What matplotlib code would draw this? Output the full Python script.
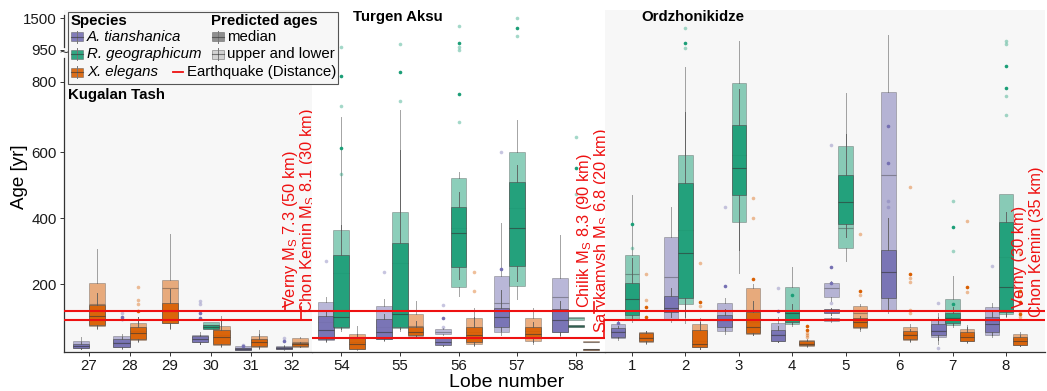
import numpy as np
import matplotlib
matplotlib.use("Agg")
import matplotlib.pyplot as plt
from matplotlib.colors import to_rgba
from matplotlib.patches import Rectangle
from matplotlib.transforms import blended_transform_factory

plt.rcParams.update({
    "font.family": ["Liberation Sans", "DejaVu Sans"],
    "font.size": 10.8,
    "mathtext.default": "regular",
})

W, H = 1047, 391          # figure size in pixels
TOP, BOTTOM = 10, 352     # panel top / bottom in pixels

SP_KEYS = ["At", "Rg", "Xe"]
SP_NAMES = ["A. tianshanica", "R. geographicum", "X. elegans"]
SP_COLORS = {"At": "#7570b3", "Rg": "#1b9e77", "Xe": "#d95f02"}

# ---- lobes per site ----
KUGALAN_LOBES = ["27", "28", "29", "30", "31", "32"]
TURGEN_LOBES = ["54", "55", "56", "57", "58"]
ORDZ_LOBES = ["1", "2", "3", "4", "5", "6", "7", "8"]

# box statistics: (lobe, species, kind, whislo, q1, med, q3, whishi, outliers)
# kind "med" = ages from median curve, "bnd" = ages from upper/lower curves
KUGALAN_AGES = [
    ("27", "At", "bnd", 3, 6, 14, 29, 40, []),
    ("27", "At", "med", 5, 8, 14, 18, 25, []),
    ("27", "Xe", "bnd", 65, 74, 140, 203, 307, []),
    ("27", "Xe", "med", 68, 76, 104, 137, 173, []),
    ("28", "At", "bnd", 5, 11, 25, 43, 50, [114]),
    ("28", "At", "med", 6, 11, 22, 35, 40, [100, 94]),
    ("28", "Xe", "bnd", 25, 31, 60, 84, 102, [191, 152, 139]),
    ("28", "Xe", "med", 27, 33, 52, 70, 100, [119]),
    ("29", "Xe", "bnd", 65, 84, 190, 213, 351, []),
    ("29", "Xe", "med", 68, 84, 120, 144, 186, []),
    ("30", "At", "bnd", 20, 24, 40, 48, 55, [149, 139]),
    ("30", "At", "med", 20, 24, 35, 42, 46, [112, 97]),
    ("30", "Rg", "bnd", 68, 68, 78, 87, 87, []),
    ("30", "Rg", "med", 64, 64, 72, 78, 78, []),
    ("30", "Xe", "bnd", 10, 16, 45, 74, 104, []),
    ("30", "Xe", "med", 12, 18, 39, 62, 90, []),
    ("31", "At", "bnd", 0, 1, 6, 12, 14, [16]),
    ("31", "At", "med", 1, 2, 4, 8, 10, [14]),
    ("31", "Xe", "bnd", 5, 11, 30, 43, 61, []),
    ("31", "Xe", "med", 8, 12, 25, 35, 50, []),
    ("32", "At", "bnd", 2, 3, 8, 14, 16, [36]),
    ("32", "At", "med", 3, 4, 7, 10, 12, [29]),
    ("32", "Xe", "bnd", 9, 11, 25, 36, 40, []),
    ("32", "Xe", "med", 10, 12, 18, 22, 25, []),
]

TURGEN_AGES = [
    ("54", "At", "bnd", 25, 31, 87, 147, 162, [271]),
    ("54", "At", "med", 28, 33, 62, 104, 120, []),
    ("54", "Rg", "bnd", 60, 67, 235, 364, 700, [1007, 731, 534]),
    ("54", "Rg", "med", 65, 71, 100, 289, 380, [827, 613]),
    ("54", "Xe", "bnd", 2, 4, 25, 51, 74, []),
    ("54", "Xe", "med", 3, 5, 19, 36, 50, []),
    ("55", "At", "bnd", 28, 33, 72, 134, 157, [238]),
    ("55", "At", "med", 30, 35, 56, 94, 110, []),
    ("55", "Rg", "bnd", 60, 67, 265, 419, 719, [1047, 745]),
    ("55", "Rg", "med", 65, 70, 110, 326, 607, [847]),
    ("55", "Xe", "bnd", 38, 43, 75, 110, 149, []),
    ("55", "Xe", "med", 40, 45, 56, 72, 90, []),
    ("56", "At", "bnd", 45, 49, 55, 64, 68, [137, 72]),
    ("56", "At", "med", 14, 16, 25, 36, 40, [97]),
    ("56", "Rg", "bnd", 165, 193, 371, 521, 540, [1368, 996, 948, 685]),
    ("56", "Rg", "med", 216, 253, 355, 435, 480, [1065, 765]),
    ("56", "Xe", "bnd", 12, 19, 56, 97, 129, [238, 180]),
    ("56", "Xe", "med", 15, 26, 45, 70, 100, []),
    ("57", "At", "bnd", 45, 55, 144, 225, 387, [600]),
    ("57", "At", "med", 60, 70, 100, 127, 183, [245]),
    ("57", "Rg", "bnd", 155, 195, 430, 600, 690, [1500, 1191]),
    ("57", "Rg", "med", 210, 256, 370, 511, 560, [1337]),
    ("57", "Xe", "bnd", 20, 29, 60, 97, 127, []),
    ("57", "Xe", "med", 25, 36, 51, 70, 85, []),
    ("58", "At", "bnd", 43, 56, 162, 218, 349, []),
    ("58", "At", "med", 45, 56, 92, 124, 150, []),
    ("58", "Rg", "bnd", 92, 92, 97, 102, 102, [642, 474]),
    ("58", "Rg", "med", 70, 70, 74, 77, 77, [551]),
    ("58", "Xe", "bnd", 25, 25, 26, 27, 27, []),
    ("58", "Xe", "med", 2, 2, 3, 4, 4, []),
]

ORDZ_AGES = [
    ("1", "At", "bnd", 30, 36, 58, 80, 88, []),
    ("1", "At", "med", 36, 41, 55, 67, 75, [84]),
    ("1", "Rg", "bnd", 85, 94, 231, 289, 471, [309]),
    ("1", "Rg", "med", 95, 107, 155, 203, 280, [383]),
    ("1", "Xe", "bnd", 20, 26, 40, 56, 60, [230, 152]),
    ("1", "Xe", "med", 22, 27, 38, 52, 58, [132, 100]),
    ("2", "At", "bnd", 85, 94, 221, 342, 433, []),
    ("2", "At", "med", 100, 115, 127, 165, 190, []),
    ("2", "Rg", "bnd", 82, 140, 365, 592, 870, [1328, 990]),
    ("2", "Rg", "med", 100, 159, 296, 508, 715, [1065]),
    ("2", "Xe", "bnd", 5, 9, 28, 79, 99, [264, 134]),
    ("2", "Xe", "med", 5, 9, 19, 62, 85, [145]),
    ("3", "At", "bnd", 50, 58, 92, 144, 160, [435]),
    ("3", "At", "med", 62, 72, 92, 107, 125, [195]),
    ("3", "Rg", "bnd", 233, 390, 592, 795, 1105, []),
    ("3", "Rg", "med", 304, 471, 553, 677, 780, []),
    ("3", "Xe", "bnd", 45, 49, 87, 188, 200, [461, 400]),
    ("3", "Xe", "med", 48, 52, 72, 117, 150, [216]),
    ("4", "At", "bnd", 24, 28, 50, 82, 102, [188]),
    ("4", "At", "med", 25, 28, 46, 62, 75, [120]),
    ("4", "Rg", "bnd", 75, 80, 112, 191, 253, []),
    ("4", "Rg", "med", 80, 87, 112, 122, 140, [168]),
    ("4", "Xe", "bnd", 10, 14, 22, 31, 35, [53, 46, 41]),
    ("4", "Xe", "med", 12, 15, 20, 27, 30, [74, 62]),
    ("5", "At", "bnd", 150, 162, 188, 203, 210, [620]),
    ("5", "At", "bnd", 87, 89, 94, 99, 101, [142]),
    ("5", "At", "med", 108, 112, 118, 124, 128, [203, 251]),
    ("5", "Rg", "bnd", 271, 311, 370, 617, 767, []),
    ("5", "Rg", "med", 342, 383, 450, 531, 652, []),
    ("5", "Xe", "bnd", 60, 67, 112, 134, 140, [352, 168]),
    ("5", "Xe", "med", 65, 70, 85, 97, 105, [181]),
    ("6", "At", "bnd", 112, 120, 531, 770, 1208, [453, 433]),
    ("6", "At", "med", 125, 158, 238, 304, 400, [673, 568]),
    ("6", "Xe", "bnd", 25, 31, 50, 72, 80, [496, 218, 208, 122, 114]),
    ("6", "Xe", "med", 28, 33, 45, 59, 66, [231]),
    ("7", "At", "bnd", 19, 39, 62, 92, 114, [142, 6]),
    ("7", "At", "med", 30, 46, 58, 79, 100, []),
    ("7", "Rg", "bnd", 70, 77, 102, 155, 225, [453, 302]),
    ("7", "Rg", "med", 78, 84, 98, 112, 130, [375, 140]),
    ("7", "Xe", "bnd", 22, 29, 45, 64, 77, [393, 178]),
    ("7", "Xe", "med", 25, 29, 41, 56, 70, [193]),
    ("8", "At", "bnd", 40, 46, 90, 130, 144, [256]),
    ("8", "At", "med", 48, 56, 80, 102, 115, []),
    ("8", "Rg", "bnd", 100, 110, 284, 473, 473, [1110, 1047, 758, 706]),
    ("8", "Rg", "med", 105, 117, 193, 390, 420, [875, 783]),
    ("8", "Xe", "bnd", 12, 16, 35, 49, 55, [294, 166, 117, 102]),
    ("8", "Xe", "med", 12, 16, 29, 41, 48, [180, 145, 110]),
]

# earthquakes: (label, years before survey)
KUGALAN_QUAKES = [("Verny M$_S$ 7.3 (50 km)", 119), ("Chon Kemin M$_S$ 8.1 (30 km)", 92)]
TURGEN_QUAKES = [("Chilik M$_S$ 8.3 (90 km)", 118), ("Sarykamysh M$_S$ 6.8 (20 km)", 37)]
ORDZ_QUAKES = [("Verny (30 km)", 119), ("Chon Kemin (35 km)", 92)]

Y_TICKS = [200, 400, 600, 800, 950, 1500]

# broken y axis: linear up to 600, then progressively compressed
Y_DATA = [-1000, 0, 600, 800, 950, 1500, 3000]
Y_AXIS = [-1000, 0, 600, 814, 910, 1006, 1006 + 1500 * 96 / 550]


def fwd(v):
    return np.interp(v, Y_DATA, Y_AXIS)


def inv(t):
    return np.interp(t, Y_AXIS, Y_DATA)


def fx(x):
    return x / W


def fy(y):
    return 1 - y / H


def draw_boxes(ax, lobes, rows, width):
    pos = {}
    for i, lobe in enumerate(lobes):
        present = [s for s in SP_KEYS if any(r[0] == lobe and r[1] == s for r in rows)]
        n = len(present)
        for j, s in enumerate(present):
            pos[(lobe, s)] = i + (j - (n - 1) / 2) * 0.8 / n

    for kind, z in (("bnd", 2), ("med", 3)):
        light = kind == "bnd"
        for s in SP_KEYS:
            sel = [r for r in rows if r[1] == s and r[2] == kind]
            if not sel:
                continue
            c = SP_COLORS[s]
            stats = [dict(whislo=r[3], q1=r[4], med=r[5], q3=r[6], whishi=r[7],
                          fliers=np.asarray(r[8], float)) for r in sel]
            ax.bxp(stats, positions=[pos[(r[0], s)] for r in sel], widths=width,
                   patch_artist=True, showcaps=False, manage_ticks=False, zorder=z,
                   boxprops=dict(facecolor=to_rgba(c, 0.5 if light else 0.92),
                                 edgecolor=(0.3, 0.3, 0.3, 0.35 if light else 0.6),
                                 linewidth=0.7),
                   medianprops=dict(color=(0.2, 0.2, 0.2, 0.4 if light else 0.6),
                                    linewidth=0.8),
                   whiskerprops=dict(color=(0.35, 0.35, 0.35, 0.55 if light else 0.85),
                                     linewidth=0.7),
                   flierprops=dict(marker="o", markersize=2.6, markeredgecolor="none",
                                   markerfacecolor=to_rgba(c, 0.4 if light else 1.0)))


fig = plt.figure(figsize=(W / 100, H / 100), dpi=100)

panels = [
    # title, lobes, ages, quakes, x0, x1, xlim, box width, facecolor
    ("Kugalan Tash", KUGALAN_LOBES, KUGALAN_AGES, KUGALAN_QUAKES, 64, 312, (-0.62, 5.5), 0.4, "#f7f7f7"),
    ("Turgen Aksu", TURGEN_LOBES, TURGEN_AGES, TURGEN_QUAKES, 312, 605, (-0.5, 4.5), 0.27, "white"),
    ("Ordzhonikidze", ORDZ_LOBES, ORDZ_AGES, ORDZ_QUAKES, 605, 1045, (-0.505, 7.73), 0.27, "#f7f7f7"),
]

# label placement per panel: (x column in axes fraction, bottom value)
label_pos = [
    [(0.912, 128), (0.981, 113)],
    [(0.930, 128), (0.988, 52)],
    [(0.943, 128), (0.981, 101)],
]
# short red ticks beneath some labels: (x axes fraction, y0, y1)
label_ticks = [
    [(0.891, 122, 146), (0.956, 92, 131)],
    [(0.962, 113, 146), (0.997, 37, 92)],
    [],
]

axes = []
for k, (title, lobes, rows, quakes, x0, x1, xlim, bw, fc) in enumerate(panels):
    ax = fig.add_axes([fx(x0), fy(BOTTOM), (x1 - x0) / W, (BOTTOM - TOP) / H],
                      sharey=axes[0] if axes else None)
    axes.append(ax)
    if k == 0:
        ax.set_yscale("function", functions=(fwd, inv))
    ax.set_facecolor(fc)
    for sp in ("top", "right", "left"):
        ax.spines[sp].set_visible(False)
    ax.spines["bottom"].set_color("#333333")
    ax.spines["bottom"].set_linewidth(0.9)

    draw_boxes(ax, lobes, rows, bw)

    ax.set_xlim(*xlim)
    ax.set_xticks(range(len(lobes)))
    ax.set_xticklabels(lobes)
    ax.tick_params(axis="x", length=3, width=0.7, color="#333333", pad=2,
                   labelsize=10.8, labelcolor="#1a1a1a")

    tr = blended_transform_factory(ax.transAxes, ax.transData)
    for (lab, yrs), (xl, yb) in zip(quakes, label_pos[k]):
        ax.axhline(yrs, color="#ee1111", lw=1.5, zorder=5)
        ax.text(xl, yb, lab, transform=tr, rotation=90, ha="center", va="bottom",
                color="#ee1111", fontsize=11.8, zorder=6)
    for xl, y0, y1 in label_ticks[k]:
        ax.plot([xl, xl], [y0, y1], transform=tr, color="#ee1111", lw=1.2,
                zorder=6, clip_on=False)

ax1 = axes[0]
ax1.set_ylim(inv(-5), inv(1031))
ax1.set_yticks(Y_TICKS)
ax1.tick_params(axis="y", length=3, width=0.7, color="#333333", pad=2,
                labelsize=10.8, labelcolor="#1a1a1a")
for ax in axes[1:]:
    ax.tick_params(axis="y", left=False, labelleft=False)

# left spine with a break at 950
ax1.plot([0, 0], [(BOTTOM - 15) / (BOTTOM - TOP), (BOTTOM - 47) / (BOTTOM - TOP)],
         transform=ax1.transAxes, color="#333333", lw=0.9, clip_on=False)
ax1.plot([0, 0], [(BOTTOM - 58) / (BOTTOM - TOP), 0],
         transform=ax1.transAxes, color="#333333", lw=0.9, clip_on=False)

# ---- overlay for titles, labels and the legend (pixel coordinates) ----
ov = fig.add_axes([0, 0, 1, 1], zorder=10)
ov.set_xlim(0, W)
ov.set_ylim(H, 0)
ov.axis("off")

ov.text(63.5, 53, "~", ha="center", va="center", fontsize=11, color="#333333")

ov.text(68, 95, "Kugalan Tash", ha="left", va="center", fontsize=10.8, fontweight="bold")
ov.text(353, 17, "Turgen Aksu", ha="left", va="center", fontsize=10.8, fontweight="bold")
ov.text(641, 17, "Ordzhonikidze", ha="left", va="center", fontsize=10.8, fontweight="bold")

ov.text(19.5, 177, "Age [yr]", rotation=90, ha="center", va="center", fontsize=13.5)
ov.text(507, 387, "Lobe number", ha="center", va="baseline", fontsize=14)

# legend
ov.add_patch(Rectangle((67.7, 11.7), 270, 72.3, fc="#f7f7f7", ec="#555555", lw=0.8))
ov.text(71, 20.5, "Species", ha="left", va="center", fontsize=10.8, fontweight="bold")
ov.text(210.7, 20.5, "Predicted ages", ha="left", va="center", fontsize=10.8,
        fontweight="bold")


def key_box(x, y, fc):
    ov.plot([x + 6, x + 6], [y - 6, y + 6], color="#777777", lw=0.7)
    ov.add_patch(Rectangle((x, y - 4.5), 12, 9, fc=fc, ec=(0.3, 0.3, 0.3, 0.5), lw=0.6))
    ov.plot([x, x + 12], [y, y], color=(0.2, 0.2, 0.2, 0.6), lw=0.8)


rows_y = [36.7, 54.3, 72.3]
for s, name, y in zip(SP_KEYS, SP_NAMES, rows_y):
    key_box(71, y, to_rgba(SP_COLORS[s], 0.9))
    ov.text(87, y, name, ha="left", va="center", fontsize=10.8, style="italic")

key_box(212, rows_y[0], "#8f8f8f")
ov.text(227, rows_y[0], "median", ha="left", va="center", fontsize=10.8)
key_box(212, rows_y[1], "#d2d2d2")
ov.text(227, rows_y[1], "upper and lower", ha="left", va="center", fontsize=10.8)
ov.plot([173, 183], [rows_y[2], rows_y[2]], color="#ee1111", lw=1.3)
ov.text(187, rows_y[2], "Earthquake (Distance)", ha="left", va="center", fontsize=10.8)

fig.savefig("out.png", dpi=100)
